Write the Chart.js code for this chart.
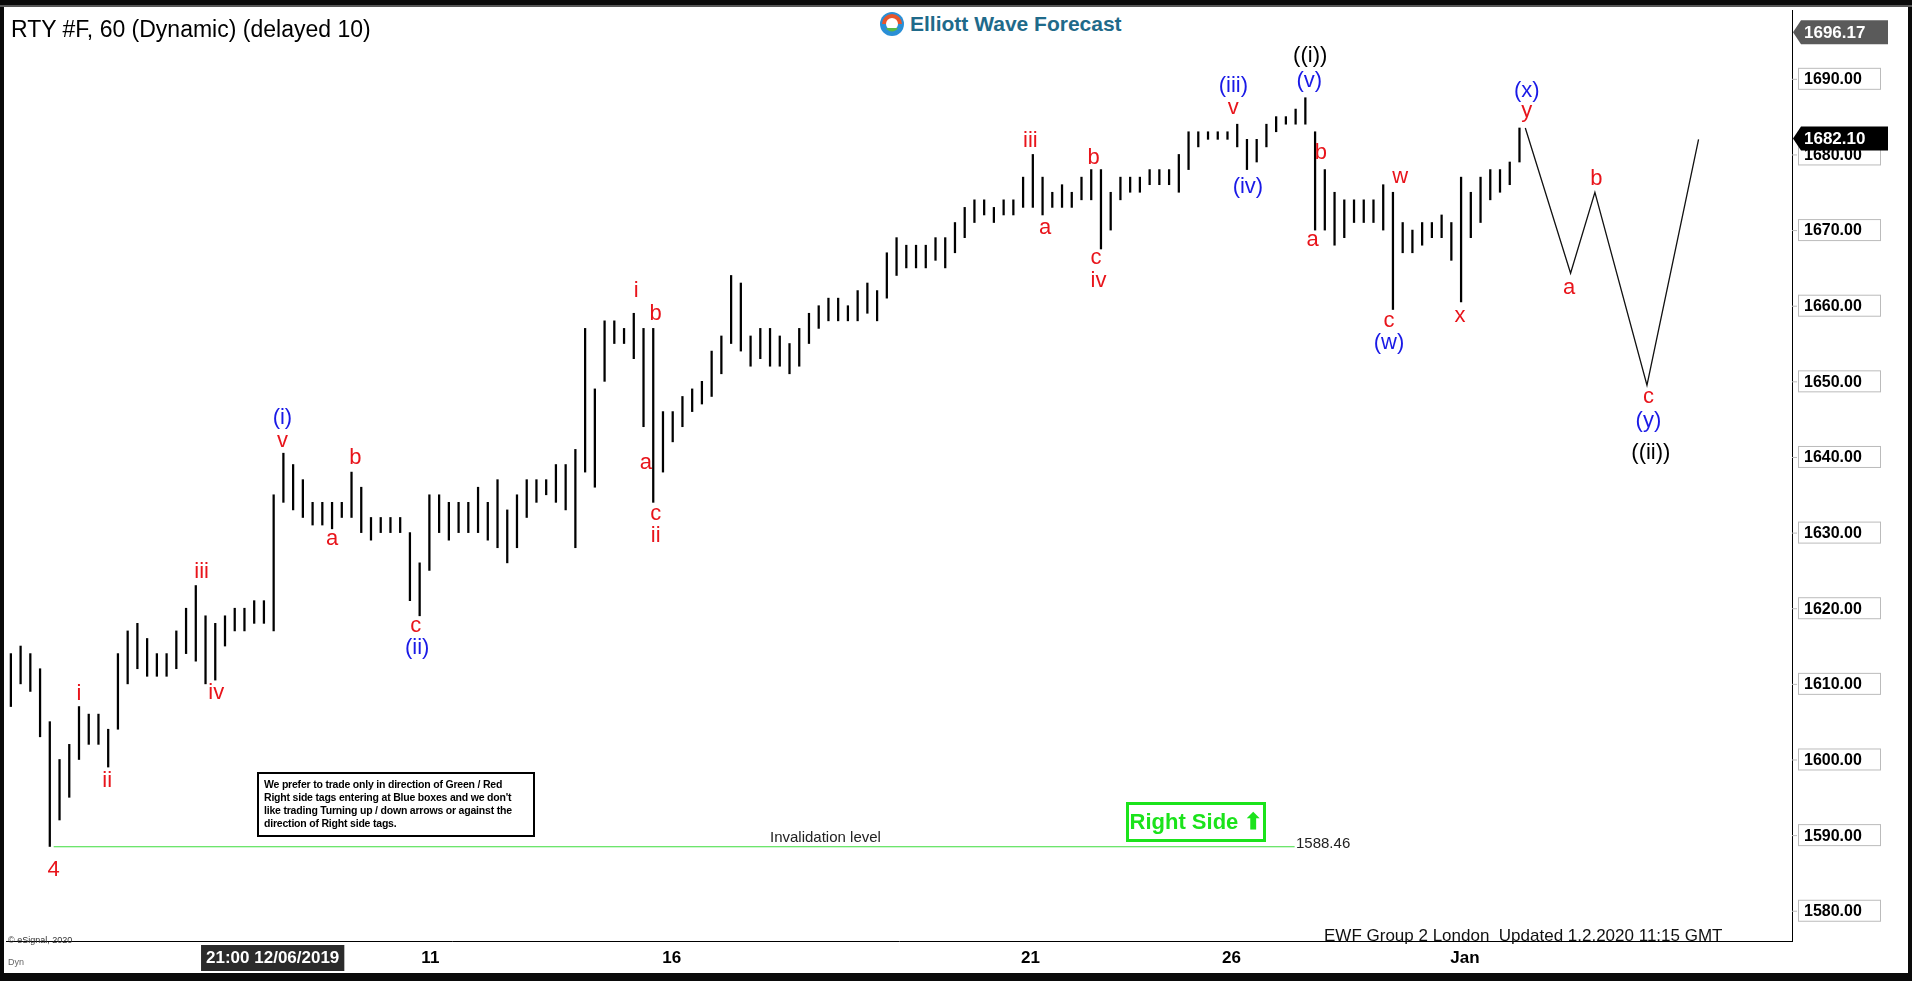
<!DOCTYPE html>
<html><head><meta charset="utf-8">
<script src="https://cdn.jsdelivr.net/npm/chart.js@4"></script>
<style>
html,body{margin:0;padding:0;background:#0a0a0a;width:1912px;height:981px;overflow:hidden;font-family:"Liberation Sans",Arial,sans-serif}
#wrap{position:absolute;left:4px;top:7px;width:1904px;height:966px;background:#fff}
#topbar{position:absolute;left:0;top:5px;width:1912px;height:2px;background:#555}
.t{position:absolute;white-space:nowrap}
</style></head><body>
<div id="topbar"></div>
<div id="wrap"><canvas id="c" width="1904" height="966"></canvas>
<div class="t" style="left:7px;top:9px;font-size:23px;color:#000">RTY #F, 60 (Dynamic) (delayed 10)</div>
<div class="t" style="left:868px;top:0px;height:30px;padding:2px 6px;background:#fff;display:flex;align-items:center">
 <svg width="28" height="28" viewBox="0 0 28 28"><circle cx="14" cy="14" r="12" fill="#2a8fd6"/><path d="M4 14a10 10 0 0 1 20 0" fill="#e8552b"/><circle cx="14" cy="14" r="6" fill="#fff"/><path d="M8 18a7 7 0 0 0 12 0" fill="#58b947"/></svg>
 <span style="font-weight:bold;font-size:21px;color:#1f6a8a;margin-left:4px">Elliott Wave Forecast</span></div>
<div class="t" style="left:253px;top:765px;width:278px;height:65px;border:2px solid #000;font-size:10.5px;font-weight:bold;line-height:13px;padding:4px 5px;box-sizing:border-box;white-space:normal;letter-spacing:-0.2px">We prefer to trade only in direction of Green / Red Right side tags entering at Blue boxes and we don't like trading Turning up / down arrows or against the direction of Right side tags.</div>
<div class="t" style="left:1122px;top:795px;width:140px;height:40px;border:3px solid #1be31b;box-sizing:border-box;color:#1be31b;font-weight:bold;font-size:22px;text-align:center;line-height:34px">Right Side &#x2B06;</div>
<div class="t" style="left:766px;top:821px;font-size:15px;color:#222">Invalidation level</div>
<div class="t" style="left:1292px;top:827px;font-size:15px;color:#222">1588.46</div>
<div class="t" style="left:1320px;top:919px;font-size:17px;color:#111">EWF Group 2 London&nbsp; Updated 1.2.2020 11:15 GMT</div>
<div class="t" style="left:4px;top:928px;font-size:9px;color:#333">© eSignal, 2020</div>
<div class="t" style="left:4px;top:950px;font-size:9px;color:#666">Dyn</div>
</div>
<script>
// Bar highs / lows (hourly bars, thinned), price units
const barHigh=[1614,1615,1614,1612,1605,1600,1602,1607,1606,1606,1604,1614,1617,1618,1616,1614,1614,1617,1620,1623,1619,1618,1619,1620,1620,1621,1621,1635,1640.5,1639,1637,1634,1634,1634,1634,1638,1636,1632,1632,1632,1632,1630,1626,1635,1635,1634,1634,1634,1636,1634,1637,1633,1635,1637,1637,1637,1639,1639,1641,1657,1649,1658,1658,1657,1659,1657,1657,1646,1646,1648,1649,1650,1654,1656,1664,1663,1656,1657,1657,1656,1655,1657,1659,1660,1661,1661,1660,1662,1663,1662,1667,1669,1668,1668,1668,1669,1669,1671,1673,1674,1674,1673,1674,1674,1677,1680,1677,1675,1676,1675,1677,1678,1678,1675,1677,1677,1677,1678,1678,1678,1680,1683,1683,1683,1683,1683,1684,1682,1682,1684,1685,1685,1686,1687.5,1683,1678,1675,1674,1674,1674,1674,1676,1675,1671,1670,1671,1671,1672,1671,1677,1675,1677,1678,1678,1679,1683.5];
const barLow=[1607,1610,1609,1603,1588.5,1592,1595,1600,1602,1602,1599,1604,1610,1612,1611,1611,1611,1612,1614,1613,1610,1610.5,1615,1617,1617,1618,1618,1617,1634,1633,1632,1631,1631,1630.5,1632,1632,1630,1629,1630,1630,1630,1621,1619,1625,1630,1629,1630,1630,1630,1629,1628,1626,1628,1632,1634,1635,1634,1633,1628,1638,1636,1650,1655,1655,1653,1644,1634,1638,1642,1644,1646,1647,1648,1651,1655,1654,1652,1653,1652,1652,1651,1652,1655,1657,1658,1658,1658,1658,1659,1658,1661,1664,1665,1665,1665,1666,1665,1667,1669,1671,1672,1671,1672,1672,1673,1673,1672,1673,1673,1673,1674,1674,1667.5,1670,1674,1675,1675,1676,1676,1676,1675,1678,1681,1682,1682,1682,1681,1678,1679,1681,1683,1684,1684,1684,1670,1670,1668,1669,1671,1671,1671,1670,1659.5,1667,1667,1668,1669,1669,1666,1660.5,1669,1671,1674,1675,1676,1679];
// Projected path (x = bar index, y = price)
const projX=[155.6,160.25,162.75,168.1,173.4];
const projY=[1683.5,1664.3,1675,1649.5,1682];
const invalidation=1588.46, invStart=4.4, invEnd=131.9;
const yTicks=[1580,1590,1600,1610,1620,1630,1640,1650,1660,1670,1680,1690];
const xTickPos=[26.9,43.1,67.9,104.75,125.4,149.4];
const xTickLbl=["21:00 12/06/2019","11","16","21","26","Jan"];
const lastPrice=1682.10, highPrice=1696.17;
// wave labels
const lblText=["4","i","ii","iii","iv","(i)","v","a","b","c","(ii)","i","b","a","c","ii","iii","a","b","c","iv","(iii)","v","(iv)","((i))","(v)","b","a","w","c","(w)","x","(x)","y","a","b","c","(y)","((ii))"];
const lblX=[4.4,7,9.9,19.6,21.1,27.9,27.9,33,35.4,41.6,41.75,64.25,66.25,65.25,66.25,66.25,104.75,106.25,111.25,111.5,111.75,125.6,125.6,127.1,133.5,133.4,134.6,133.75,142.75,141.6,141.6,148.9,155.75,155.75,160.1,162.9,168.25,168.25,168.5];
const lblY=[1585.4,1608.7,1597.1,1624.8,1608.8,1645.2,1642.1,1629.2,1639.9,1617.6,1614.7,1662,1658.9,1639.2,1632.5,1629.5,1681.8,1670.3,1679.6,1666.3,1663.3,1689,1686.2,1675.7,1693,1689.7,1680.2,1668.7,1677,1658,1655.1,1658.6,1688.4,1685.7,1662.3,1676.7,1647.9,1644.7,1640.5];
const lblCol=["r","r","r","r","r","b","r","r","r","r","b","r","r","r","r","r","r","r","r","r","r","b","r","b","k","b","r","r","r","r","b","r","b","r","r","r","r","b","k"];
const colMap={r:"#e8141b",b:"#1a1ae6",k:"#000"};

const bars=barHigh.map((h,i)=>({x:i,y:[barLow[i],h]}));
const proj=projX.map((x,i)=>({x,y:projY[i]}));
const inv=[{x:invStart,y:invalidation},{x:invEnd,y:invalidation}];

const overlay={id:'ov',afterDraw(ch){
 const c=ch.ctx,xs=ch.scales.x,ys=ch.scales.y,ca=ch.chartArea;
 c.save();
 c.textAlign='center';c.textBaseline='middle';
 c.font='22px "Liberation Sans",Arial';
 lblText.forEach((t,i)=>{c.fillStyle=colMap[lblCol[i]];c.fillText(t,xs.getPixelForValue(lblX[i]),ys.getPixelForValue(lblY[i]));});
 c.font='bold 16px "Liberation Sans",Arial';c.textAlign='left';
 yTicks.forEach(v=>{const y=ys.getPixelForValue(v);c.strokeStyle='#bbb';c.lineWidth=1;c.strokeRect(ca.right+6.5,y-10.5,82,21);c.fillStyle='#000';c.fillText(v.toFixed(2),ca.right+12,y+1);
  c.beginPath();c.moveTo(ca.right,y+.5);c.lineTo(ca.right+5,y+.5);c.stroke();});
 const box=(v,bg)=>{const y=ys.getPixelForValue(v);c.fillStyle=bg;c.beginPath();c.moveTo(ca.right+1,y);c.lineTo(ca.right+9,y-12);c.lineTo(ca.right+96,y-12);c.lineTo(ca.right+96,y+12);c.lineTo(ca.right+9,y+12);c.closePath();c.fill();c.fillStyle='#fff';c.font='bold 17px "Liberation Sans",Arial';c.fillText(v.toFixed(2),ca.right+12,y+1);};
 box(highPrice,'#5a5a5a');box(lastPrice,'#000');
 c.font='bold 17px "Liberation Sans",Arial';c.textAlign='center';
 xTickPos.forEach((p,i)=>{const x=xs.getPixelForValue(p);const y=ca.bottom+17;
  if(i===0){const w=c.measureText(xTickLbl[i]).width+10;c.fillStyle='#2b2b2b';c.fillRect(x-w/2,ca.bottom+4,w,26);c.fillStyle='#fff';}else c.fillStyle='#000';
  c.fillText(xTickLbl[i],x,y);});
 c.restore();
}};

new Chart(document.getElementById('c'),{
 data:{datasets:[
  {type:'bar',data:bars,backgroundColor:'#000',barThickness:1.6,grouped:false,order:2},
  {type:'line',data:proj,borderColor:'#111',borderWidth:1.3,pointRadius:0,tension:0,order:1},
  {type:'line',data:inv,borderColor:'#3ddc3d',borderWidth:1.2,pointRadius:0,order:1}
 ]},
 options:{responsive:false,animation:false,devicePixelRatio:1,
  layout:{padding:{left:2,top:3,right:6,bottom:4}},
  plugins:{legend:{display:false},tooltip:{enabled:false}},
  scales:{
   x:{type:'linear',offset:false,bounds:'ticks',min:-0.5,max:183,grid:{display:false,drawTicks:false,offset:false},border:{display:true,color:'#000'},ticks:{display:false},afterFit(s){s.height=28;}},
   y:{position:'right',min:1576,max:1699.1,grid:{display:false,drawTicks:false},border:{display:true,color:'#000'},ticks:{display:false},afterFit(s){s.width=110;}}
  }},
 plugins:[overlay]
});
</script></body></html>
